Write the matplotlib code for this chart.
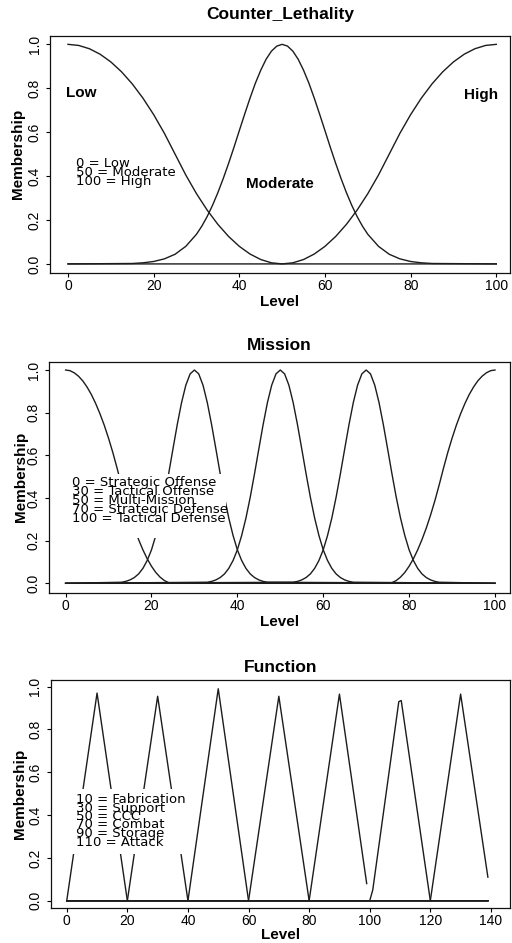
import matplotlib
matplotlib.use('Agg')
import matplotlib.pyplot as plt
from matplotlib.patches import Rectangle

plt.rcParams['font.family'] = ['Liberation Sans', 'DejaVu Sans']

LINE = '#1c1c1c'

# ---------------- Counter_Lethality ----------------
cl_level = [0, 2.5, 5, 7.5, 10, 12.5, 15, 17.5, 20, 22.5, 25, 27.5, 30, 32.5, 35,
            37.5, 40, 42.5, 45, 47.5, 50, 52.5, 55, 57.5, 60, 62.5, 65, 67.5, 70,
            72.5, 75, 77.5, 80, 82.5, 85, 87.5, 90, 92.5, 95, 97.5, 100]
cl_low = [1.0, 0.995, 0.98, 0.955, 0.92, 0.875, 0.82, 0.755, 0.68, 0.595, 0.5,
          0.405, 0.32, 0.245, 0.18, 0.125, 0.08, 0.045, 0.02, 0.005, 0.0,
          0, 0, 0, 0, 0, 0, 0, 0, 0, 0, 0, 0, 0, 0, 0, 0, 0, 0, 0, 0]
cl_high = [0, 0, 0, 0, 0, 0, 0, 0, 0, 0, 0, 0, 0, 0, 0, 0, 0, 0, 0, 0,
           0.0, 0.005, 0.02, 0.045, 0.08, 0.125, 0.18, 0.245, 0.32, 0.405, 0.5,
           0.595, 0.68, 0.755, 0.82, 0.875, 0.92, 0.955, 0.98, 0.995, 1.0]
cl_level_moderate = [0, 15, 17.5, 20, 22.5, 25, 27.5, 30, 31.25, 32.5, 33.75, 35,
                     36.25, 37.5, 38.75, 40, 41.25, 42.5, 43.75, 45, 46.25, 47.5,
                     48.75, 50, 51.25, 52.5, 53.75, 55, 56.25, 57.5, 58.75, 60,
                     61.25, 62.5, 63.75, 65, 66.25, 67.5, 68.75, 70, 72.5, 75,
                     77.5, 80, 82.5, 85, 100]
cl_moderate = [0.0, 0.002, 0.005, 0.011, 0.023, 0.044, 0.080, 0.135, 0.172, 0.216,
               0.267, 0.325, 0.389, 0.458, 0.531, 0.607, 0.682, 0.755, 0.823,
               0.882, 0.932, 0.969, 0.992, 1.0, 0.992, 0.969, 0.932, 0.882, 0.823,
               0.755, 0.682, 0.607, 0.531, 0.458, 0.389, 0.325, 0.267, 0.216,
               0.172, 0.135, 0.080, 0.044, 0.023, 0.011, 0.005, 0.002, 0.0]
cl_names = ['Low', 'Moderate', 'High']
cl_legend = ['0 = Low', '50 = Moderate', '100 = High']

# ---------------- Mission ----------------
ms_level_0 = list(range(0, 26)) + [100]
ms_0 = [1.0, 0.997, 0.987, 0.971, 0.949, 0.92, 0.885, 0.843, 0.795, 0.741, 0.68,
        0.613, 0.539, 0.461, 0.387, 0.32, 0.259, 0.205, 0.157, 0.115, 0.08,
        0.051, 0.029, 0.013, 0.003, 0.0, 0.0]
ms_level_30 = [0] + list(range(13, 48)) + [100]
ms_30 = [0.0, 0.005, 0.009, 0.016, 0.027, 0.044, 0.070, 0.107, 0.157, 0.224,
         0.306, 0.404, 0.514, 0.630, 0.744, 0.847, 0.929, 0.982, 1.0, 0.982,
         0.929, 0.847, 0.744, 0.630, 0.514, 0.404, 0.306, 0.224, 0.157, 0.107,
         0.070, 0.044, 0.027, 0.016, 0.009, 0.005, 0.0]
ms_level_50 = [0] + list(range(33, 68)) + [100]
ms_50 = [0.0, 0.005, 0.009, 0.016, 0.027, 0.044, 0.070, 0.107, 0.157, 0.224,
         0.306, 0.404, 0.514, 0.630, 0.744, 0.847, 0.929, 0.982, 1.0, 0.982,
         0.929, 0.847, 0.744, 0.630, 0.514, 0.404, 0.306, 0.224, 0.157, 0.107,
         0.070, 0.044, 0.027, 0.016, 0.009, 0.005, 0.0]
ms_level_70 = [0] + list(range(53, 88)) + [100]
ms_70 = [0.0, 0.005, 0.009, 0.016, 0.027, 0.044, 0.070, 0.107, 0.157, 0.224,
         0.306, 0.404, 0.514, 0.630, 0.744, 0.847, 0.929, 0.982, 1.0, 0.982,
         0.929, 0.847, 0.744, 0.630, 0.514, 0.404, 0.306, 0.224, 0.157, 0.107,
         0.070, 0.044, 0.027, 0.016, 0.009, 0.005, 0.0]
ms_level_100 = [0] + list(range(75, 101))
ms_100 = [0.0, 0.0, 0.003, 0.013, 0.029, 0.051, 0.08, 0.115, 0.157, 0.205, 0.259,
          0.32, 0.387, 0.461, 0.539, 0.613, 0.68, 0.741, 0.795, 0.843, 0.885,
          0.92, 0.949, 0.971, 0.987, 0.997, 1.0]
ms_legend = ['0 = Strategic Offense', '30 = Tactical Offense', '50 = Multi-Mission',
             '70 = Strategic Defense', '100 = Tactical Defense']

# ---------------- Function ----------------
fn_level_10 = [0, 10, 20, 139]
fn_10 = [0.0, 0.97, 0.0, 0.0]
fn_level_30 = [0, 20, 30, 40, 139]
fn_30 = [0.0, 0.0, 0.955, 0.0, 0.0]
fn_level_50 = [0, 40, 50, 60, 139]
fn_50 = [0.0, 0.0, 0.99, 0.0, 0.0]
fn_level_70 = [0, 60, 70, 80, 139]
fn_70 = [0.0, 0.0, 0.955, 0.0, 0.0]
fn_level_90 = [0, 80, 90, 99]
fn_90 = [0.0, 0.0, 0.965, 0.08]
fn_level_110 = [0, 100, 101, 109.6, 110.4, 120, 139]
fn_110 = [0.0, 0.0, 0.05, 0.93, 0.935, 0.0, 0.0]
fn_level_130 = [0, 120, 130, 139]
fn_130 = [0.0, 0.0, 0.965, 0.11]
fn_legend = ['10 = Fabrication', '30 = Support', '50 = CCC', '70 = Combat',
             '90 = Storage', '110 = Attack']

W, H = 512, 943
fig = plt.figure(figsize=(W / 100, H / 100), dpi=100)
fig.patch.set_facecolor('white')


def make_axes(left, top, right, bottom):
    return fig.add_axes([left / W, 1 - bottom / H, (right - left) / W, (bottom - top) / H])


def style(ax, title, title_y, xticks, xlab_y, ylab_x):
    ax.set_title(title, fontsize=12.5, fontweight='bold', y=title_y, pad=0,
                 va='center')
    ax.set_xticks(xticks)
    ax.set_xticklabels([str(t) for t in xticks])
    ax.set_yticks([0.0, 0.2, 0.4, 0.6, 0.8, 1.0])
    ax.set_yticklabels(['0.0', '0.2', '0.4', '0.6', '0.8', '1.0'],
                       rotation=90, va='center')
    ax.tick_params(axis='x', direction='out', length=3, width=0.8, pad=1.2,
                   labelsize=10, top=False)
    ax.tick_params(axis='y', direction='out', length=3, width=0.8, pad=3,
                   labelsize=10, right=False)
    ax.set_xlabel('Level', fontsize=11, fontweight='bold')
    ax.xaxis.set_label_coords(0.5, xlab_y)
    ax.xaxis.label.set_va('center')
    ax.set_ylabel('Membership', fontsize=11, fontweight='bold')
    ax.yaxis.set_label_coords(ylab_x, 0.5)
    ax.yaxis.label.set_va('center')
    for s in ax.spines.values():
        s.set_linewidth(0.9)
        s.set_color('#111111')


# Panel 1
ax1 = make_axes(50, 36, 510, 272.7)
ax1.plot(cl_level, cl_low, color=LINE, lw=1.0, zorder=2)
ax1.plot(cl_level_moderate, cl_moderate, color=LINE, lw=1.0, zorder=2)
ax1.plot(cl_level, cl_high, color=LINE, lw=1.0, zorder=2)
ax1.set_xlim(-4.2, 103.2)
ax1.set_ylim(-0.04, 1.038)
style(ax1, 'Counter_Lethality', 1.089, [0, 20, 40, 60, 80, 100], -0.124, -0.07)
ax1.text(-0.5, 0.778, cl_names[0], fontsize=11, fontweight='bold', ha='left', va='center')
ax1.text(49.4, 0.363, cl_names[1], fontsize=11, fontweight='bold', ha='center', va='center')
ax1.text(100.5, 0.769, cl_names[2], fontsize=11, fontweight='bold', ha='right', va='center')
for s, yy in zip(cl_legend, [0.458, 0.416, 0.375]):
    ax1.text(1.9, yy, s, fontsize=9.5, family='DejaVu Sans', ha='left', va='center', zorder=4)

# Panel 2
ax2 = make_axes(49.3, 361.7, 510, 592.7)
for lv, vals in ((ms_level_0, ms_0), (ms_level_30, ms_30), (ms_level_50, ms_50),
                 (ms_level_70, ms_70), (ms_level_100, ms_100)):
    ax2.plot(lv, vals, color=LINE, lw=1.0, zorder=2)
ax2.set_xlim(-3.8, 103.5)
ax2.set_ylim(-0.044, 1.039)
style(ax2, 'Mission', 1.072, [0, 20, 40, 60, 80, 100], -0.1255, -0.062)
ax2.add_patch(Rectangle((0.8, 0.211), 36.6, 0.30, facecolor='white',
                        edgecolor='none', zorder=3))
for s, yy in zip(ms_legend, [0.472, 0.429, 0.387, 0.347, 0.305]):
    ax2.text(1.4, yy, s, fontsize=9.5, family='DejaVu Sans', ha='left', va='center', zorder=4)

# Panel 3
ax3 = make_axes(50.7, 680, 510, 908.3)
for lv, vals in ((fn_level_10, fn_10), (fn_level_30, fn_30), (fn_level_50, fn_50),
                 (fn_level_70, fn_70), (fn_level_90, fn_90), (fn_level_110, fn_110),
                 (fn_level_130, fn_130)):
    ax3.plot(lv, vals, color=LINE, lw=1.0, zorder=2)
ax3.set_xlim(-5.3, 146.3)
ax3.set_ylim(-0.0355, 1.031)
style(ax3, 'Function', 1.056, [0, 20, 40, 60, 80, 100, 120, 140], -0.117, -0.067)
ax3.add_patch(Rectangle((1.0, 0.22), 38.0, 0.30, facecolor='white',
                        edgecolor='none', zorder=3))
for s, yy in zip(fn_legend, [0.475, 0.433, 0.394, 0.356, 0.316, 0.274]):
    ax3.text(3.2, yy, s, fontsize=9.5, family='DejaVu Sans', ha='left', va='center', zorder=4)

fig.savefig('out.png', dpi=100, facecolor='white')
